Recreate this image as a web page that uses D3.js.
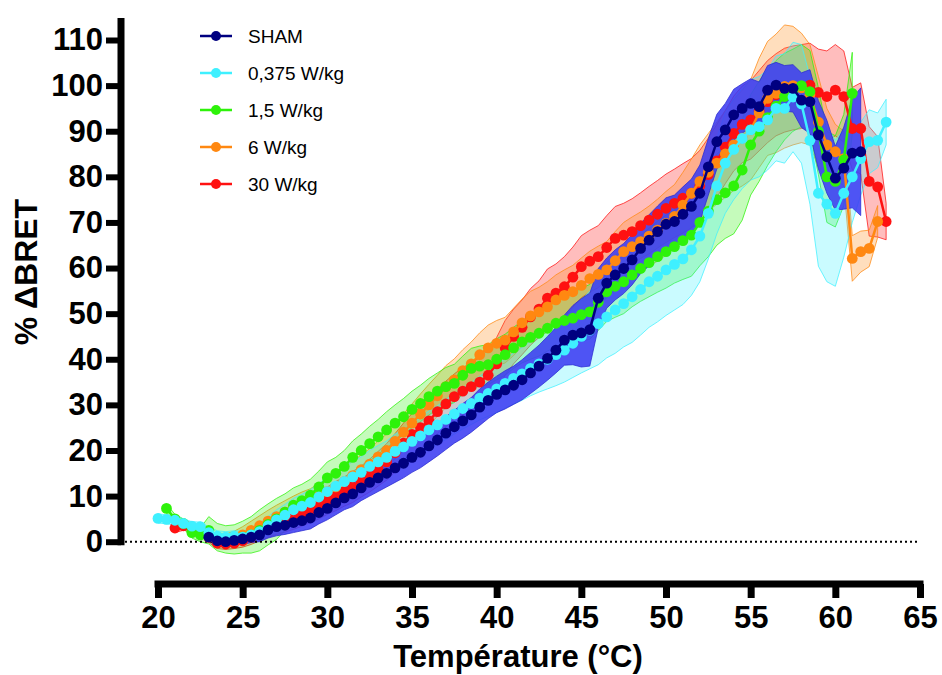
<!DOCTYPE html>
<html><head><meta charset="utf-8">
<script src="https://cdn.jsdelivr.net/npm/d3@7"></script>
<style>
html,body{margin:0;padding:0;background:#fff;}
svg{display:block;font-family:"Liberation Sans",Arial,Helvetica,sans-serif;}
</style></head>
<body><svg id="chart" width="942" height="675"></svg>
<script>
const temperatures = [20,20.5,21,21.5,22,22.5,23,23.5,24,24.5,25,25.5,26,26.5,27,27.5,28,28.5,29,29.5,30,30.5,31,31.5,32,32.5,33,33.5,34,34.5,35,35.5,36,36.5,37,37.5,38,38.5,39,39.5,40,40.5,41,41.5,42,42.5,43,43.5,44,44.5,45,45.5,46,46.5,47,47.5,48,48.5,49,49.5,50,50.5,51,51.5,52,52.5,53,53.5,54,54.5,55,55.5,56,56.5,57,57.5,58,58.5,59,59.5,60,60.5,61,61.5,62,62.5,63];

const seriesNames = ["SHAM","0,375 W/kg","1,5 W/kg","6 W/kg","30 W/kg"];
const seriesColors = ["#000080","#3ff0ff","#2ef20a","#ff8811","#ff1111"];

const shamValues = [null,null,null,null,null,null,
 1.0,0.2,0.0,0.3,0.6,1.0,1.5,2.6,3.3,3.6,
 4.2,4.6,5.2,6.4,7.3,8.5,9.6,10.5,11.8,13.0,
 14.0,15.0,16.2,17.2,18.5,19.6,21.0,22.3,23.8,25.2,
 26.5,27.8,29.5,31.0,32.3,33.3,34.3,35.5,37.0,38.5,
 40.2,42.0,44.2,45.3,45.8,46.5,53.4,56.7,58.5,59.9,
 61.8,64.3,66.1,68.0,69.6,70.2,71.8,73.5,76.4,82.2,
 87.7,90.3,93.6,95.0,96.1,95.4,99.0,100.1,99.4,99.4,
 96.8,96.5,89.2,84.4,79.7,81.9,85.2,85.5,
 null,null,null];
const shamError = [null,null,null,null,null,null,
 1.0,1.0,1.0,1.0,1.2,1.2,1.5,1.8,2.0,2.0,
 2.2,2.2,2.4,2.5,2.5,2.6,2.6,2.8,2.8,3.0,
 3.0,3.0,3.2,3.2,3.3,3.4,3.5,3.5,3.6,3.6,
 3.8,3.8,4.0,4.0,4.0,4.2,4.2,4.4,4.5,4.6,
 4.8,5.0,5.5,6.5,7.5,8.0,6.5,5.5,5.5,5.5,
 5.5,5.5,5.6,5.6,5.8,5.8,6.0,6.0,6.2,6.2,
 6.0,5.8,5.6,5.4,5.4,5.4,5.4,5.0,5.0,5.2,
 6.0,7.0,7.5,8.0,7.0,9.0,12.0,14.0,
 null,null,null];

const w0375Values = [5.1,4.9,4.7,4.0,3.4,3.3,2.0,1.2,1.0,1.2,
 1.0,1.5,2.2,3.5,4.8,5.8,7.0,7.8,8.6,9.8,
 11.0,12.2,13.2,14.2,15.2,16.5,17.5,18.5,19.8,20.8,
 22.0,23.2,24.5,25.6,26.8,28.0,29.2,30.3,31.5,32.5,
 33.5,34.7,35.8,36.8,38.0,39.0,40.0,41.0,42.0,43.5,
 45.0,46.4,47.8,49.3,50.8,52.2,53.7,55.3,57.0,58.2,
 59.6,60.8,62.0,64.0,67.0,72.0,78.0,83.0,86.0,88.4,
 90.3,91.0,92.5,95.0,95.0,97.5,96.0,88.0,76.4,74.0,
 72.0,76.4,80.0,84.0,87.7,88.0,92.0];
const w0375Error = [1.0,1.0,1.0,1.0,1.0,1.0,1.2,1.2,1.2,1.2,
 1.3,1.5,1.8,2.0,2.2,2.4,2.5,2.6,2.8,3.0,
 3.0,3.2,3.2,3.4,3.4,3.5,3.6,3.6,3.8,3.8,
 4.0,4.0,4.2,4.2,4.4,4.4,4.5,4.6,4.8,5.0,
 5.2,5.4,5.6,5.8,6.0,6.2,6.5,6.8,7.0,7.5,
 8.0,8.5,9.0,9.0,9.5,9.5,10.0,10.0,10.0,10.0,
 10.0,10.0,10.0,10.0,10.0,10.0,10.5,11.0,11.0,11.0,
 11.0,11.0,11.0,11.5,12.0,12.0,13.0,14.0,16.0,17.0,
 16.0,14.0,10.0,8.0,7.0,6.0,5.0];

const w15Values = [null,
 7.3,5.0,4.0,2.0,1.5,2.5,1.0,0.5,0.5,1.0,
 1.5,2.5,3.8,5.0,6.5,8.0,9.0,10.2,12.0,14.0,
 15.0,16.5,18.5,20.0,21.5,23.0,24.5,26.0,27.4,29.0,
 30.3,31.8,33.0,34.0,34.7,36.5,38.0,38.5,38.8,40.0,
 41.0,42.5,43.8,44.8,45.7,46.8,47.9,48.5,49.0,49.8,
 50.4,52.5,54.8,56.0,57.0,58.5,59.9,61.2,62.5,63.6,
 64.7,66.0,67.2,70.0,72.5,75.0,76.5,78.0,81.5,87.0,
 90.0,93.0,95.5,97.6,99.0,100.0,98.7,90.0,80.0,79.0,
 83.7,98.3,
 null,null,null,null];
const w15Error = [null,
 1.0,1.0,1.0,1.2,1.5,3.0,3.0,3.0,3.2,3.5,
 4.0,4.5,4.5,4.5,4.0,3.8,3.6,3.5,3.5,3.5,
 3.5,3.5,3.6,3.6,3.8,3.8,4.0,4.0,4.0,4.0,
 4.0,4.0,4.0,4.2,4.2,4.2,4.4,4.4,4.4,4.5,
 4.5,4.5,4.6,4.8,5.0,5.0,5.2,5.5,5.5,5.8,
 6.0,6.2,6.5,6.8,7.0,7.0,7.2,7.5,7.8,8.0,
 8.0,8.5,9.0,9.5,10.0,10.0,10.0,10.5,11.0,11.0,
 11.0,10.5,10.0,9.5,9.0,9.0,9.0,9.5,10.0,10.0,
 10.0,9.0,
 null,null,null,null];

const w6Values = [null,null,null,null,null,null,
 1.0,0.5,0.5,0.8,1.5,2.5,3.5,4.5,5.5,6.5,
 7.5,8.3,9.0,10.0,11.0,12.0,13.2,14.5,15.8,17.0,
 18.6,20.0,22.0,24.0,26.0,28.0,30.0,32.0,34.0,35.5,
 37.5,39.0,41.0,42.5,43.5,44.2,46.0,48.0,49.5,50.4,
 51.5,53.0,54.0,54.8,56.2,57.7,58.6,59.6,61.6,63.6,
 64.7,65.8,67.0,68.3,69.8,71.3,73.8,76.4,79.0,81.0,
 83.0,85.0,87.0,88.5,90.3,94.0,97.2,98.3,99.8,100.0,
 99.5,98.0,92.0,87.0,85.5,84.0,62.1,63.6,64.3,70.2,
 null];
const w6Error = [null,null,null,null,null,null,
 1.0,1.0,1.2,1.5,1.8,2.0,2.2,2.4,2.5,2.5,
 2.5,2.6,2.6,2.8,2.8,3.0,3.0,3.2,3.2,3.4,
 3.5,3.6,3.8,4.0,4.2,4.4,4.5,4.5,4.6,4.6,
 4.6,4.8,4.8,5.0,5.0,5.0,5.2,5.2,5.4,5.4,
 5.5,5.5,5.6,5.8,6.0,6.0,6.2,6.2,6.4,6.4,
 6.5,6.5,6.6,6.8,7.0,7.0,7.2,7.5,8.0,8.5,
 9.0,9.5,10.0,10.5,11.0,12.0,12.5,13.0,13.5,13.0,
 12.0,11.0,10.0,8.0,6.0,6.0,5.0,4.5,4.0,3.5,
 null];

const w30Values = [null,null,
 3.0,3.5,3.2,2.5,1.0,-0.3,-0.5,-0.3,0.2,1.0,
 2.0,3.0,3.8,4.5,5.2,6.0,7.0,8.0,9.0,10.0,
 11.0,12.0,13.2,14.5,16.0,17.5,19.5,21.6,23.5,25.0,
 26.5,28.5,30.2,31.8,33.0,34.0,35.0,36.5,39.0,42.5,
 45.0,47.0,49.3,51.0,53.4,54.5,55.9,58.0,60.3,61.5,
 62.5,64.5,66.5,67.2,68.0,69.3,70.5,71.8,73.1,74.2,
 75.3,76.4,78.0,80.5,83.5,86.5,89.5,91.5,92.5,94.5,
 96.5,98.0,99.0,99.5,99.8,100.1,98.5,97.6,99.0,97.6,
 90.6,90.6,79.0,77.8,70.2];
const w30Error = [null,null,
 1.0,1.0,1.0,1.0,1.2,1.2,1.2,1.2,1.4,1.6,
 1.8,2.0,2.2,2.4,2.5,2.6,2.8,3.0,3.0,3.2,
 3.2,3.4,3.4,3.6,3.8,4.0,4.2,4.4,4.6,4.6,
 4.8,4.8,5.0,5.0,5.2,5.2,5.4,5.6,5.8,6.0,
 6.0,6.0,6.2,6.2,6.4,6.4,6.6,6.6,6.8,6.8,
 6.8,7.0,7.0,7.0,7.2,7.2,7.4,7.4,7.5,7.5,
 7.6,7.6,7.8,8.0,8.0,8.0,8.2,8.4,8.6,8.8,
 9.0,9.0,9.2,9.2,9.2,9.2,9.5,10.0,10.0,10.0,
 9.0,10.0,12.0,11.0,4.0];

const yTicks = [0,10,20,30,40,50,60,70,80,90,100,110];
const xTicks = [20,25,30,35,40,45,50,55,60,65];

const allValues = [shamValues,w0375Values,w15Values,w6Values,w30Values];
const allErrors = [shamError,w0375Error,w15Error,w6Error,w30Error];

const svg = d3.select("#chart");
const x = d3.scaleLinear().domain([20,65]).range([158,920]);
const y = d3.scaleLinear().domain([0,110]).range([541.7,40]);

const series = seriesNames.map((name,i)=>({
  name, color: seriesColors[i],
  pts: temperatures.map((t,j)=>({t, v: allValues[i][j], e: allErrors[i][j]})).filter(d=>d.v!==null)
}));

// bands (drawn bottom-up: 30, 6, 1.5, 0.375, SHAM)
const area = d3.area().x(d=>x(d.t)).y0(d=>y(d.v-d.e)).y1(d=>y(d.v+d.e));
const order = [4,3,2,1,0];
const bandG = svg.append("g");
order.forEach(i=>{
  const s = series[i];
  const isSham = i===0;
  bandG.append("path").datum(s.pts).attr("d",area)
    .attr("fill", isSham ? "#3c3cf2" : s.color)
    .attr("fill-opacity", isSham ? 0.88 : 0.28)
    .attr("stroke", isSham ? "#2a2ad0" : s.color)
    .attr("stroke-opacity", 0.75)
    .attr("stroke-width", 1);
});

// zero dotted line
svg.append("line").attr("x1",125).attr("x2",x(65)).attr("y1",y(0)).attr("y2",y(0))
  .attr("stroke","#000").attr("stroke-width",2).attr("stroke-dasharray","2,3");

// lines + dots
const line = d3.line().x(d=>x(d.t)).y(d=>y(d.v));
order.forEach(i=>{
  const s = series[i];
  const g = svg.append("g");
  g.append("path").datum(s.pts).attr("d",line).attr("fill","none")
    .attr("stroke",s.color).attr("stroke-width",2.5);
  g.selectAll("circle").data(s.pts).join("circle")
    .attr("cx",d=>x(d.t)).attr("cy",d=>y(d.v)).attr("r",5.4).attr("fill",s.color);
});

// Y axis
const yAx = svg.append("g").attr("transform","translate(121,0)")
  .call(d3.axisLeft(y).tickValues(yTicks).tickSize(15).tickPadding(3).tickSizeOuter(0));
yAx.select(".domain").remove();
yAx.selectAll(".tick line").attr("stroke","#000").attr("stroke-width",6);
yAx.selectAll(".tick text").attr("font-size",31).attr("font-weight","bold").attr("fill","#000")
  .attr("font-family","'Liberation Sans',Arial,Helvetica,sans-serif");
yAx.append("line").attr("x1",0).attr("x2",0).attr("y1",y(0)+3.5).attr("y2",18)
  .attr("stroke","#000").attr("stroke-width",7);

// X axis
const xAx = svg.append("g").attr("transform","translate(0,584)")
  .call(d3.axisBottom(x).tickValues(xTicks).tickSize(14).tickPadding(8).tickSizeOuter(0));
xAx.select(".domain").remove();
xAx.selectAll(".tick line").attr("stroke","#000").attr("stroke-width",7);
xAx.selectAll(".tick text").attr("font-size",31).attr("font-weight","bold").attr("fill","#000")
  .attr("font-family","'Liberation Sans',Arial,Helvetica,sans-serif");
xAx.append("line").attr("x1",x(20)-3.5).attr("x2",x(65)+3.5).attr("y1",0).attr("y2",0)
  .attr("stroke","#000").attr("stroke-width",7);

// titles
svg.append("text").attr("transform","translate(37,272) rotate(-90)")
  .attr("text-anchor","middle").attr("font-size",32).attr("font-weight","bold").text("% ΔBRET");
svg.append("text").attr("x",518).attr("y",667).attr("text-anchor","middle")
  .attr("font-size",31).attr("font-weight","bold").text("Température (°C)");

// legend
const leg = svg.append("g");
series.forEach((s,i)=>{
  const ly = 36 + i*37;
  leg.append("line").attr("x1",200).attr("x2",232).attr("y1",ly).attr("y2",ly)
    .attr("stroke",s.color).attr("stroke-width",2.5);
  leg.append("circle").attr("cx",216).attr("cy",ly).attr("r",5).attr("fill",s.color);
  leg.append("text").attr("x",248).attr("y",ly).attr("dy","0.35em").attr("font-size",19)
    .attr("fill","#000").text(s.name);
});
</script></body></html>
